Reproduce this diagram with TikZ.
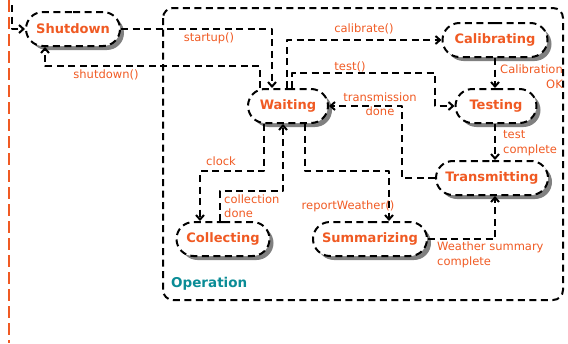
\documentclass[tikz,border=0pt]{standalone}
\usepackage{fontspec}
\setmainfont{DejaVu Sans}
\usetikzlibrary{shapes.misc,shadows,arrows.meta}
\definecolor{rust}{RGB}{240,90,35}
\definecolor{opteal}{RGB}{10,140,150}
\begin{document}
\begin{tikzpicture}[x=1pt,y=-1pt,line join=round,
  >={Straight Barb[length=4.5pt,width=8pt]},
  trans/.style={line width=2pt,dash pattern=on 7pt off 4.5pt},
  state/.style={rounded rectangle,draw,trans,fill=white,minimum height=34pt,inner sep=0pt,
    text=rust,font=\bfseries\fontsize{13}{15}\selectfont,
    drop shadow={shadow xshift=4pt,shadow yshift=-4pt,fill=black!50,opacity=1}},
  lbl/.style={text=rust,font=\fontsize{11.5}{14.5}\selectfont,inner sep=0pt}]
\useasboundingbox (0,0) rectangle (568,343);
\draw[rust,line width=2pt,dash pattern=on 12pt off 5pt] (9,0)--(9,343);
\draw[trans,rounded corners=10pt] (163,8) rectangle (563,300);
\node[anchor=west,inner sep=0pt,text=opteal,font=\bfseries\fontsize{13.5}{15}\selectfont] (oplabel) at (171,284) {Operation};
\coordinate (start) at (12,5);
\node[state,minimum width=94pt] (shutdown) at (73,29) {Shutdown};
\node[state,minimum width=80pt] (waiting) at (288,106) {Waiting};
\node[state,minimum width=105pt] (calibrating) at (495,40) {Calibrating};
\node[state,minimum width=81pt] (testing) at (496,106) {Testing};
\node[state,minimum width=112pt] (transmitting) at (492,178) {Transmitting};
\node[state,minimum width=93pt] (collecting) at (223,239) {Collecting};
\node[state,minimum width=114pt] (summarizing) at (370,239) {Summarizing};
% transitions
\draw[trans,->] (start) |- (shutdown.west);
\draw[trans,->] (shutdown.east) -| ([xshift=-16pt]waiting.north);
\draw[trans,->] ([xshift=-28pt]waiting.north) |- ++(-215,-22) -- ([xshift=-28pt]shutdown.south);
\draw[trans,->] ([xshift=-1pt]waiting.north) |- (calibrating.west);
\draw[trans,->] ([xshift=4pt]waiting.north) |- ++(143,-15) |- (testing.west);
\draw[trans,->] (calibrating.south) -- (calibrating.south |- testing.north);
\draw[trans,->] ([xshift=-1pt]testing.south) -- ([xshift=-1pt]testing.south |- transmitting.north);
\draw[trans,->] (transmitting.west) -| ([xshift=73pt]waiting.east) -- (waiting.east);
\draw[trans,->] ([xshift=-24pt]waiting.south) |- ([xshift=-23pt,yshift=50pt]collecting.north) -- ([xshift=-23pt]collecting.north);
\draw[trans,->] ([xshift=-3pt]collecting.north) |- ([xshift=-5pt,yshift=-67pt]waiting.south) -- ([xshift=-5pt]waiting.south);
\draw[trans,->] ([xshift=17pt]waiting.south) |- ([xshift=19pt,yshift=50pt]summarizing.north) -- ([xshift=19pt]summarizing.north);
\draw[trans,->] (summarizing.east) -| ([xshift=3pt]transmitting.south);
% labels
\path
(209,38) node[lbl] (lstartup) {startup()}
(106,75) node[lbl] (lshutdown) {shutdown()}
(364,29) node[lbl] (lcalibrate) {calibrate()}
(350,67) node[lbl] (ltest) {test()}
(563,65) node[lbl,anchor=north east,align=right] (lcalok) {Calibration\\OK}
(380,104) node[lbl,align=center] (ltransdone) {transmission\\done}
(503,143) node[lbl,anchor=west,align=left] (ltestdone) {test\\complete}
(221,161) node[lbl] (lclock) {clock}
(224,206) node[lbl,anchor=west,align=left] (lcolldone) {collection\\done}
(348,206) node[lbl] (lreport) {reportWeather()}
(437,255) node[lbl,anchor=west,align=left] (lsummary) {Weather summary\\complete};
\end{tikzpicture}
\end{document}
